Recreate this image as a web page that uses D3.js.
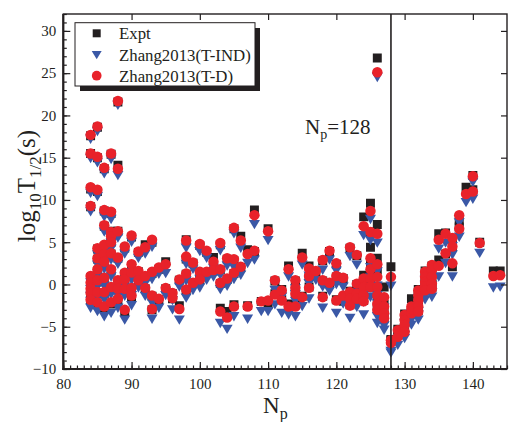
<!DOCTYPE html>
<html>
<head>
<meta charset="utf-8">
<script src="https://cdn.jsdelivr.net/npm/d3@7/dist/d3.min.js"></script>
<style>
  html, body { margin: 0; padding: 0; background: #fff; }
  svg { display: block; }
  text { font-family: "Liberation Serif", "Times New Roman", serif; fill: #231f20; }
</style>
</head>
<body>
<svg id="chart" width="510" height="422"></svg>
<script>
// Half-lives vs proton number: [Np, log10 T1/2]
const exptData = [
  [84,17.6],[84,15.5],[84,11.3],[84,9.2],[84,0.8],[84,0.0],[84,-0.5],[84,-1.1],[84,-1.9],
  [85,18.6],[85,15.0],[85,11.0],[85,4.2],[85,3.0],[85,1.6],[85,0.3],[85,-1.0],[85,-2.4],
  [86,13.7],[86,8.7],[86,6.9],[86,4.5],[86,3.5],[86,2.5],[86,0.6],[86,-1.1],[86,-2.9],
  [87,15.4],[87,8.4],[87,6.3],[87,5.5],[87,5.0],[87,3.6],[87,1.6],[87,-0.4],[87,-2.3],
  [88,21.6],[88,14.1],[88,6.3],[88,3.1],[88,0.4],[88,-0.6],[88,-1.9],
  [89,4.3],[89,1.2],[89,0.5],[89,-0.6],[89,-3.2],
  [90,5.6],[90,2.2],[90,1.3],[90,-0.5],[90,-1.5],
  [91,3.8],[91,1.5],[91,0.4],
  [92,4.7],[92,0.9],[92,-0.5],
  [93,5.0],[93,1.3],[93,-1.4],[93,-3.0],
  [94,1.8],[94,-1.8],
  [95,2.7],[95,-0.5],
  [96,-1.1],[96,-1.7],
  [97,0.5],[97,-2.5],
  [98,5.3],[98,3.0],[98,1.2],[98,-0.7],
  [99,2.5],[99,0.1],
  [100,4.6],[100,1.4],[100,0.5],
  [101,3.8],[101,1.4],
  [102,3.2],[102,1.6],
  [103,4.7],[103,1.7],[103,0.1],[103,-2.8],
  [104,3.0],[104,0.6],[104,-3.2],
  [105,6.6],[105,2.8],[105,1.3],[105,-2.4],
  [106,5.7],[106,2.0],
  [107,4.1],[107,-2.5],
  [108,8.8],[108,3.9],
  [109,-2.0],
  [110,6.6],[110,-2.4],
  [111,0.4],[111,-1.1],
  [112,-0.6],[112,-1.8],
  [113,2.2],[113,-2.3],
  [114,0.4],[114,-0.3],[114,-1.0],[114,-2.4],
  [115,3.7],[115,-1.4],
  [116,2.2],[116,0.9],[116,-0.3],
  [117,1.5],
  [118,2.8],[118,0.4],[118,-1.4],
  [119,3.9],[119,0.1],
  [120,2.4],[120,0.9],[120,-1.8],
  [121,0.7],[121,-2.0],
  [122,4.3],[122,-0.8],[122,-1.6],[122,-2.4],
  [123,3.4],[123,0.0],[123,-1.0],[123,-1.6],
  [124,8.0],[124,1.1],[124,-0.3],[124,-1.2],[124,-1.9],
  [125,9.6],[125,6.2],[125,4.4],[125,2.6],[125,0.6],[125,-0.4],
  [126,26.8],[126,7.1],[126,3.1],[126,1.7],[126,-0.2],[126,-1.2],[126,-2.2],[126,-3.0],
  [127,-0.3],[127,-2.3],[127,-3.3],[127,-4.0],
  [128,2.1],[128,-6.5],[128,-6.6],
  [129,-5.3],[129,-6.0],
  [130,-3.5],[130,-4.1],[130,-4.7],[130,-5.5],
  [131,-1.7],[131,-3.3],[131,-3.0],
  [132,-0.6],[132,-1.2],[132,-1.8],[132,-2.5],[132,-3.1],
  [133,1.6],[133,0.8],[133,0.2],[133,-0.1],[133,-0.6],
  [134,2.2],[134,1.6],[134,0.8],[134,0.0],[134,-0.4],
  [135,6.0],[135,2.9],
  [136,6.1],[136,3.6],
  [137,5.4],[137,4.4],[137,2.1],
  [138,7.5],[138,6.8],
  [139,11.5],
  [140,12.9],[140,11.2],
  [141,5.0],
  [143,1.6],
  [144,1.6]
];

const tIndData = [
  [84,17.2],[84,14.9],[84,10.8],[84,8.6],[84,0.2],[84,-0.6],[84,-1.4],[84,-2.0],[84,-2.8],
  [85,18.1],[85,14.4],[85,10.4],[85,3.5],[85,2.3],[85,1.0],[85,-0.3],[85,-1.6],[85,-3.2],
  [86,13.1],[86,8.0],[86,6.2],[86,3.9],[86,2.8],[86,1.8],[86,-0.2],[86,-1.8],[86,-3.8],
  [87,14.8],[87,7.7],[87,5.4],[87,4.9],[87,4.2],[87,2.9],[87,0.9],[87,-1.2],[87,-3.4],
  [88,21.2],[88,12.9],[88,5.5],[88,2.4],[88,-0.3],[88,-1.4],[88,-2.8],
  [89,3.6],[89,0.5],[89,-0.3],[89,-1.4],[89,-4.2],
  [90,5.0],[90,1.4],[90,0.5],[90,-1.3],[90,-2.5],
  [91,3.1],[91,0.8],[91,-0.4],
  [92,3.6],[92,0.1],[92,-1.4],
  [93,4.4],[93,0.6],[93,-2.2],[93,-4.1],
  [94,1.2],[94,-2.8],
  [95,1.3],[95,-1.3],
  [96,-1.9],[96,-3.0],
  [97,-0.3],[97,-4.2],
  [98,4.3],[98,2.4],[98,0.4],[98,-1.6],
  [99,1.8],[99,-0.7],
  [100,3.9],[100,0.6],[100,-0.4],
  [101,3.1],[101,0.5],
  [102,1.9],[102,0.9],
  [103,4.0],[103,1.1],[103,-0.6],[103,-4.6],
  [104,2.2],[104,-0.2],[104,-5.3],
  [105,6.0],[105,2.0],[105,0.6],[105,-3.8],
  [106,4.3],[106,1.1],
  [107,2.5],[107,-4.1],
  [108,7.1],[108,2.9],
  [109,-3.2],
  [110,5.2],[110,-3.2],
  [111,-0.7],[111,-2.4],
  [112,-1.5],[112,-3.4],
  [113,0.9],[113,-3.6],
  [114,-0.5],[114,-1.2],[114,-2.0],[114,-3.8],
  [115,2.3],[115,-2.6],
  [116,1.0],[116,0.1],[116,-1.7],
  [117,0.5],
  [118,1.7],[118,-0.3],[118,-2.8],
  [119,2.9],[119,-0.8],
  [120,1.6],[120,0.0],[120,-3.4],
  [121,-0.3],[121,-2.3],
  [122,3.3],[122,-2.0],[122,-2.6],[122,-4.0],
  [123,2.3],[123,-1.0],[123,-2.0],[123,-2.7],
  [124,5.8],[124,-0.4],[124,-1.2],[124,-2.1],[124,-3.6],
  [125,7.7],[125,5.2],[125,2.0],[125,0.8],[125,-0.3],[125,-1.5],
  [126,24.5],[126,4.9],[126,1.5],[126,-0.2],[126,-1.3],[126,-2.3],[126,-3.8],[126,-4.6],
  [127,-2.8],[127,-4.0],[127,-4.9],[127,-5.4],
  [128,-0.2],[128,-8.1],[128,-7.9],
  [129,-6.5],[129,-7.2],
  [130,-4.6],[130,-5.4],[130,-6.0],[130,-6.4],
  [131,-3.6],[131,-4.2],[131,-4.8],
  [132,-1.7],[132,-2.2],[132,-3.2],[132,-3.6],[132,-4.2],
  [133,0.5],[133,-0.1],[133,-0.7],[133,-1.3],[133,-1.8],
  [134,1.3],[134,0.7],[134,-0.2],[134,-1.0],[134,-1.5],
  [135,4.2],[135,0.9],
  [136,4.9],[136,2.5],
  [137,4.5],[137,3.5],[137,0.9],
  [138,7.3],[138,5.6],
  [139,9.7],
  [140,12.1],[140,10.1],
  [141,3.7],
  [143,-0.4],
  [144,-0.3]
];

const tDepData = [
  [84,17.7],[84,15.5],[84,11.5],[84,9.3],[84,1.0],[84,0.2],[84,-0.5],[84,-1.0],[84,-1.8],
  [85,18.7],[85,15.1],[85,11.2],[85,4.3],[85,3.1],[85,1.8],[85,0.5],[85,-0.9],[85,-2.1],
  [86,13.8],[86,8.8],[86,7.0],[86,4.7],[86,3.6],[86,2.7],[86,0.8],[86,-0.9],[86,-2.6],
  [87,15.5],[87,8.6],[87,6.2],[87,5.7],[87,5.0],[87,3.7],[87,1.8],[87,-0.3],[87,-2.1],
  [88,21.7],[88,13.7],[88,6.3],[88,3.2],[88,0.5],[88,-0.5],[88,-1.7],
  [89,4.5],[89,1.4],[89,0.6],[89,-0.5],[89,-3.0],
  [90,5.8],[90,2.4],[90,1.4],[90,-0.4],[90,-1.3],
  [91,3.9],[91,1.6],[91,0.5],
  [92,4.4],[92,1.0],[92,-0.4],
  [93,5.3],[93,1.5],[93,-1.3],[93,-2.9],
  [94,2.0],[94,-1.7],
  [95,2.4],[95,-0.4],
  [96,-1.0],[96,-1.6],
  [97,0.6],[97,-2.9],
  [98,5.2],[98,3.3],[98,1.3],[98,-0.6],
  [99,2.6],[99,0.2],
  [100,4.8],[100,1.5],[100,0.6],
  [101,4.0],[101,1.5],
  [102,2.7],[102,1.7],
  [103,4.9],[103,1.8],[103,0.2],[103,-3.2],
  [104,3.1],[104,0.7],[104,-3.9],
  [105,6.7],[105,3.0],[105,1.4],[105,-2.6],
  [106,5.2],[106,2.1],
  [107,3.6],[107,-2.6],
  [108,8.2],[108,4.0],
  [109,-2.0],
  [110,6.3],[110,-1.9],
  [111,0.5],[111,-1.2],
  [112,-0.7],[112,-1.9],
  [113,1.8],[113,-2.6],
  [114,0.5],[114,-0.4],[114,-1.1],[114,-2.6],
  [115,3.2],[115,-1.5],
  [116,1.9],[116,1.0],[116,-0.4],
  [117,1.6],
  [118,2.9],[118,0.5],[118,-1.5],
  [119,4.0],[119,0.2],
  [120,2.5],[120,1.0],[120,-1.9],
  [121,0.8],[121,-1.3],
  [122,4.4],[122,-0.9],[122,-1.7],[122,-2.5],
  [123,3.5],[123,0.1],[123,-1.1],[123,-1.7],
  [124,6.9],[124,0.7],[124,-0.3],[124,-1.3],[124,-2.0],
  [125,8.7],[125,6.2],[125,3.1],[125,1.8],[125,0.7],[125,-0.3],
  [126,25.1],[126,6.0],[126,2.4],[126,0.9],[126,-0.3],[126,-1.3],[126,-2.3],[126,-3.0],
  [127,-1.5],[127,-2.6],[127,-3.4],[127,-4.0],
  [128,0.9],[128,-6.9],[128,-6.6],
  [129,-5.4],[129,-6.2],
  [130,-3.6],[130,-4.2],[130,-4.8],[130,-5.6],
  [131,-2.6],[131,-3.4],[131,-2.9],
  [132,-0.7],[132,-1.3],[132,-1.9],[132,-2.6],[132,-3.2],
  [133,1.5],[133,0.9],[133,0.3],[133,-0.2],[133,-0.7],
  [134,2.3],[134,1.7],[134,0.9],[134,0.1],[134,-0.5],
  [135,5.3],[135,2.2],
  [136,6.0],[136,3.7],
  [137,5.5],[137,4.5],[137,2.5],
  [138,8.2],[138,6.6],
  [139,10.7],
  [140,12.8],[140,11.0],
  [141,4.9],
  [143,1.0],
  [144,1.1]
];

const xTicks = [80, 90, 100, 110, 120, 130, 140];
const yTicks = [-10, -5, 0, 5, 10, 15, 20, 25, 30];
const legendLabels = ["Expt", "Zhang2013(T-IND)", "Zhang2013(T-D)"];
const magicNp = 128;

const colors = { expt: "#231f20", ind: "#3a58a6", dep: "#e8222a" };

const svg = d3.select("#chart");
const L = 63.3, R = 507, T = 14, B = 369;
const x = d3.scaleLinear().domain([80, 145]).range([L, R]);
const y = d3.scaleLinear().domain([-10, 32]).range([B, T]);

svg.append("defs").append("clipPath").attr("id", "plot")
  .append("rect").attr("x", L).attr("y", T).attr("width", R - L).attr("height", B - T);

// downward-pointing triangle symbol
const triDown = {
  draw(ctx, size) {
    const w = Math.sqrt(size) * 0.75, h = Math.sqrt(size) * 0.62;
    ctx.moveTo(-w, -h);
    ctx.lineTo(w, -h);
    ctx.lineTo(0, h * 1.05);
    ctx.closePath();
  }
};
const sqSym = d3.symbol().type(d3.symbolSquare).size(80);
const triSym = d3.symbol().type(triDown).size(54);
const cirSym = d3.symbol().type(d3.symbolCircle).size(86);

const plot = svg.append("g").attr("clip-path", "url(#plot)");

plot.append("g").selectAll("path").data(exptData).join("path")
  .attr("d", sqSym).attr("fill", colors.expt)
  .attr("transform", d => `translate(${x(d[0])},${y(d[1])})`);
plot.append("g").selectAll("path").data(tIndData).join("path")
  .attr("d", triSym).attr("fill", colors.ind)
  .attr("transform", d => `translate(${x(d[0])},${y(d[1])})`);
plot.append("g").selectAll("path").data(tDepData).join("path")
  .attr("d", cirSym).attr("fill", colors.dep)
  .attr("transform", d => `translate(${x(d[0])},${y(d[1])})`);

// shell closure marker
svg.append("line")
  .attr("x1", x(magicNp)).attr("x2", x(magicNp))
  .attr("y1", T).attr("y2", B)
  .attr("stroke", "#231f20").attr("stroke-width", 1.6);

const np = svg.append("text").attr("x", 305).attr("y", 134).style("font-size", "21px");
np.append("tspan").text("N");
np.append("tspan").attr("dy", 5).style("font-size", "14px").text("p");
np.append("tspan").attr("dy", -5).text("=128");

// axes
const axisStyle = g => {
  g.select(".domain").remove();
  g.selectAll(".tick line").attr("stroke", "#231f20").attr("stroke-width", 1.2);
  g.selectAll(".tick text").style("font-size", "15px").attr("fill", "#231f20")
    .style("font-family", '"Liberation Serif", "Times New Roman", serif');
};

const minorX = d3.range(80, 146, 1);
const minorY = d3.range(-10, 33, 1);

svg.append("g").attr("transform", `translate(0,${B})`)
  .call(d3.axisBottom(x).tickValues(minorX).tickSize(-3.5).tickFormat(""))
  .call(axisStyle);
svg.append("g").attr("transform", `translate(0,${B})`)
  .call(d3.axisBottom(x).tickValues(xTicks).tickSize(-7).tickPadding(9).tickFormat(d3.format("d")))
  .call(axisStyle);
svg.append("g").attr("transform", `translate(0,${T})`)
  .call(d3.axisTop(x).tickValues(xTicks.slice(1)).tickSize(-6).tickFormat(""))
  .call(axisStyle);

svg.append("g").attr("transform", `translate(${L},0)`)
  .call(d3.axisLeft(y).tickValues(minorY).tickSize(-3.5).tickFormat(""))
  .call(axisStyle);
svg.append("g").attr("transform", `translate(${L},0)`)
  .call(d3.axisLeft(y).tickValues(yTicks).tickSize(-7).tickPadding(7).tickFormat(d3.format("d")))
  .call(axisStyle);
svg.append("g").attr("transform", `translate(${R},0)`)
  .call(d3.axisRight(y).tickValues(yTicks).tickSize(-6).tickFormat(""))
  .call(axisStyle);

// frame
svg.append("rect").attr("x", L).attr("y", T).attr("width", R - L).attr("height", B - T)
  .attr("fill", "none").attr("stroke", "#231f20").attr("stroke-width", 1.4);
svg.append("line").attr("x1", L).attr("x2", L).attr("y1", T).attr("y2", B + 1)
  .attr("stroke", "#231f20").attr("stroke-width", 2.2);
svg.append("line").attr("x1", L - 1).attr("x2", R).attr("y1", B).attr("y2", B)
  .attr("stroke", "#231f20").attr("stroke-width", 2.2);

// axis titles
const xt = svg.append("text").attr("x", 263).attr("y", 413).style("font-size", "23px");
xt.append("tspan").text("N");
xt.append("tspan").attr("dy", 6).style("font-size", "16px").text("p");

const yt = svg.append("text")
  .attr("transform", "translate(35,186) rotate(-90)")
  .attr("text-anchor", "middle").style("font-size", "25px");
yt.append("tspan").text("log");
yt.append("tspan").attr("dy", 6).style("font-size", "17px").text("10");
yt.append("tspan").attr("dy", -6).text("T");
yt.append("tspan").attr("dy", 6).style("font-size", "17px").text("1/2");
yt.append("tspan").attr("dy", -6).text("(s)");

// legend
const lg = svg.append("g");
lg.append("rect").attr("x", 80).attr("y", 28).attr("width", 180).attr("height", 63)
  .attr("fill", "#231f20");
lg.append("rect").attr("x", 75).attr("y", 22.7).attr("width", 180).attr("height", 63.3)
  .attr("fill", "#fff").attr("stroke", "#231f20").attr("stroke-width", 1);
const legSyms = [
  { sym: d3.symbol().type(d3.symbolSquare).size(64), color: colors.expt },
  { sym: d3.symbol().type(triDown).size(44), color: colors.ind },
  { sym: d3.symbol().type(d3.symbolCircle).size(74), color: colors.dep }
];
const rowsY = [33.3, 55, 75.7];
legendLabels.forEach((lab, i) => {
  lg.append("path").attr("d", legSyms[i].sym).attr("fill", legSyms[i].color)
    .attr("transform", `translate(96.7,${rowsY[i]})`);
  lg.append("text").attr("x", 119).attr("y", rowsY[i] + 6)
    .style("font-size", "16.8px").text(lab);
});
</script>
</body>
</html>
